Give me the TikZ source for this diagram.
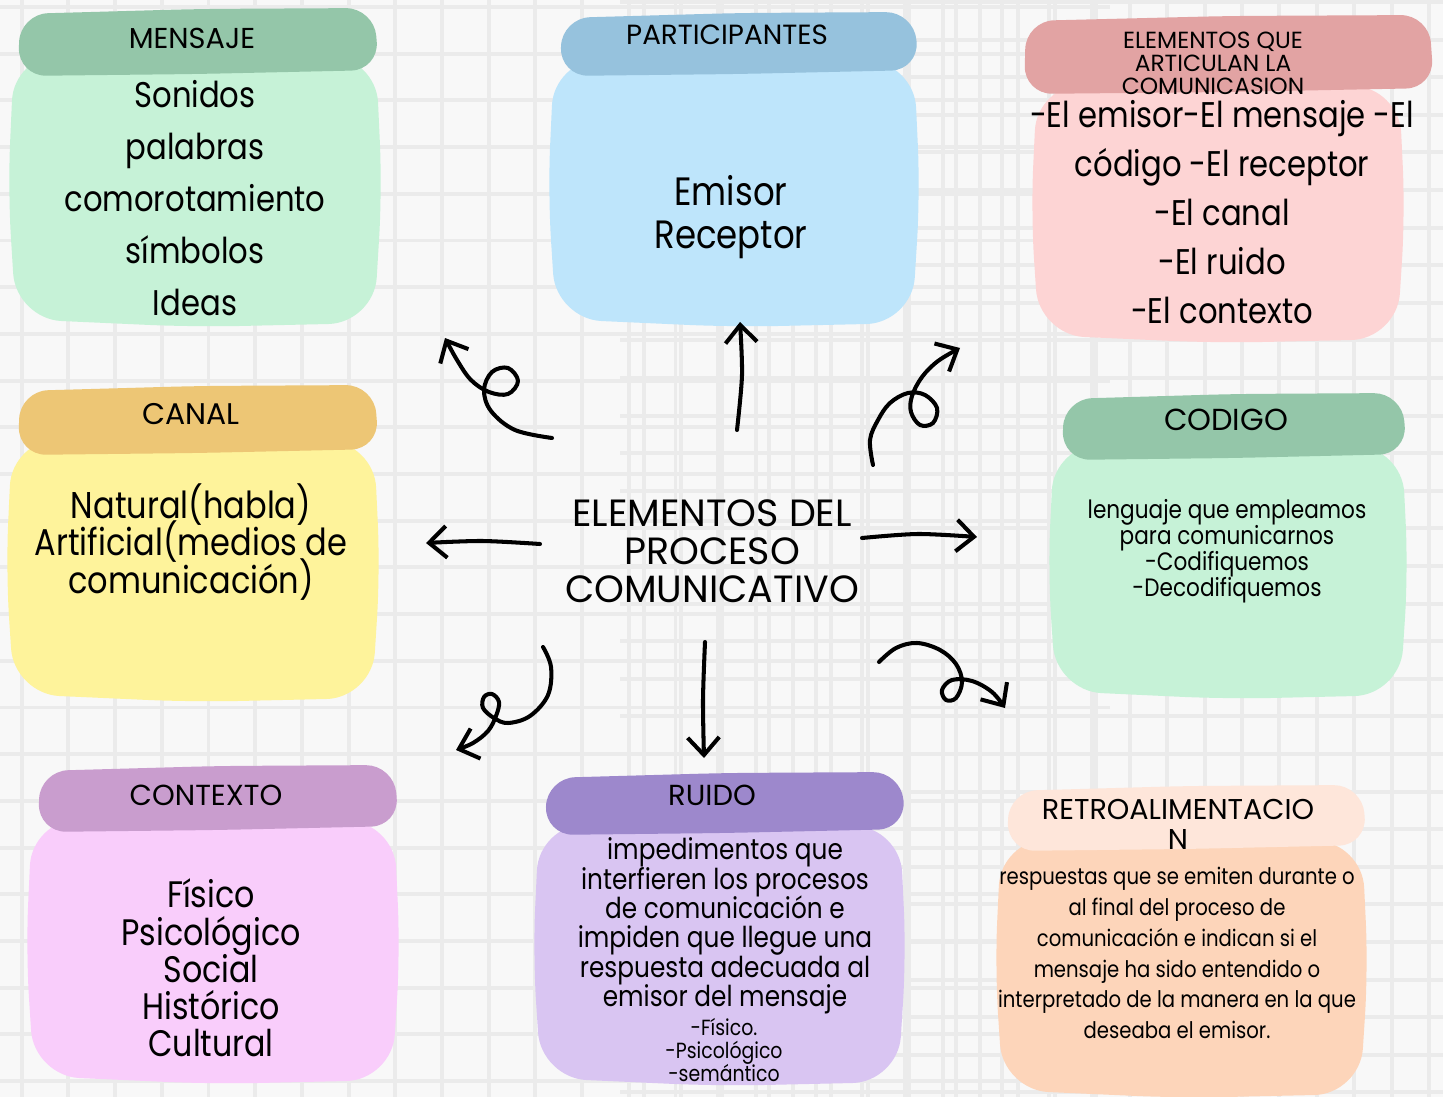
\documentclass[tikz,border=0pt]{standalone}
\usepackage{fontspec}
\setmainfont{Poppins}[FakeStretch=0.86]
\newfontfamily\mayus{Poppins}
\usetikzlibrary{arrows.meta}
\setlength{\lineskiplimit}{-100pt}

\definecolor{fondo}{HTML}{F8F8F8}
\definecolor{rejilla}{HTML}{EBEBEB}
\definecolor{verdeA}{HTML}{94C6A9}
\definecolor{verdeB}{HTML}{C6F2D7}
\definecolor{azulA}{HTML}{96C2DD}
\definecolor{azulB}{HTML}{BEE5FB}
\definecolor{rojoA}{HTML}{E2A3A3}
\definecolor{rojoB}{HTML}{FDD4D4}
\definecolor{amarA}{HTML}{EDC675}
\definecolor{amarB}{HTML}{FEF39B}
\definecolor{rosaA}{HTML}{C99DCE}
\definecolor{rosaB}{HTML}{F9CDFB}
\definecolor{moraA}{HTML}{9D88CC}
\definecolor{moraB}{HTML}{D9C5F2}
\definecolor{nara}{HTML}{FEE6DA}
\definecolor{naraB}{HTML}{FDD5BA}

% cuerpo de la caja: x1 y1 x2 y2 color
\newcommand{\cuerpo}[5]{%
  \fill[#5,rounded corners=26pt] (#1+4,#2) -- ({(#1+#3)/2},#2-3) -- (#3-4,#2+2)
    -- (#3+2,{(#2+#4)/2}) -- (#3-6,#4-2) -- ({(#1+#3)/2},#4+2) -- (#1+6,#4-6)
    -- (#1-2,{(#2+#4)/2}) -- cycle;}
% cinta del titulo: x1 y1 x2 y2 color
\newcommand{\cinta}[5]{%
  \fill[#5,rounded corners=16pt] (#1+2,#2+6) -- ({(#1+#3)/2},#2+1) -- (#3-4,#2)
    -- (#3+1,#4-6) -- ({(#1+#3)/2},#4-2) -- (#1,#4) -- cycle;}

\begin{document}
\begin{tikzpicture}[x=0.02cm,y=-0.02cm,
    titulo/.style={align=center,inner sep=0pt,font=\mayus\fontsize{16.4}{18}\selectfont},
    texto/.style={align=center,inner sep=0pt},
    flecha/.style={line width=2.3pt,line cap=round,line join=round,
      -{Straight Barb[length=10pt,width=18pt]}}]
  \useasboundingbox (0,0) rectangle (1443,1097);
  \fill[fondo] (0,0) rectangle (1443,1097);
  \foreach \i in {0,...,23}{
    \draw[rejilla,line width=2.2pt] ({21.7+46.7*\i},0) -- ({21.7+46.7*\i},1097);
    \draw[rejilla,line width=2.2pt] (0,{7+46.7*\i}) -- (1110,{7+46.7*\i});
  }
  \foreach \i in {0,...,21}
    \draw[rejilla,line width=2.2pt] ({1429-37.4*\i},0) -- ({1429-37.4*\i},1097);
  \foreach \i in {0,...,29}
    \draw[rejilla,line width=2.2pt] (620,{2+37.6*\i}) -- (1443,{2+37.6*\i});

  \cuerpo{10}{55}{380}{325}{verdeB}
  \cinta{18}{8}{378}{76}{verdeA}
  \cuerpo{550}{60}{918}{325}{azulB}
  \cinta{560}{12}{918}{76}{azulA}
  \cuerpo{1033}{85}{1403}{341}{rojoB}
  \cinta{1024}{15}{1433}{94}{rojoA}
  \cuerpo{8}{440}{378}{700}{amarB}
  \cinta{18}{385}{378}{455}{amarA}
  \cuerpo{1050}{445}{1406}{697}{verdeB}
  \cinta{1062}{393}{1406}{460}{verdeA}
  \cuerpo{28}{820}{398}{1082}{rosaB}
  \cinta{38}{765}{398}{832}{rosaA}
  \cuerpo{535}{825}{904}{1084}{moraB}
  \cinta{545}{772}{905}{835}{moraA}
  \cuerpo{997}{840}{1366}{1096}{naraB}
  \cinta{1007}{785}{1366}{851}{nara}

  \node[titulo] (mensaje) at (192,38) {MENSAJE};
  \node[texto,font=\fontsize{20.3}{29.5}\selectfont] (sonidos) at (195,198)
    {Sonidos\\palabras\\comorotamiento\\símbolos\\Ideas};
  \node[titulo,font=\mayus\fontsize{15.8}{18}\selectfont] (partic) at (727,35) {PARTICIPANTES};
  \node[texto,font=\fontsize{22.5}{24.4}\selectfont] (emisor) at (731,217) {Emisor\\Receptor};
  \node[texto,font=\mayus\fontsize{13.3}{13}\selectfont] (articulan) at (1213,63)
    {ELEMENTOS QUE\\ARTICULAN LA\\COMUNICASION};
  \node[texto,font=\fontsize{20.3}{28}\selectfont] (lista) at (1222,212)
    {-El emisor-El mensaje -El\\código -El receptor\\-El canal\\-El ruido\\-El contexto};
  \node[titulo,font=\mayus\fontsize{17}{18}\selectfont] (canal) at (191,414) {CANAL};
  \node[texto,font=\fontsize{21.2}{21.5}\selectfont] (natural) at (191,542)
    {Natural(habla)\\Artificial(medios de\\comunicación)};
  \node[titulo,font=\mayus\fontsize{17.3}{19}\selectfont] (codigo) at (1226,420) {CODIGO};
  \node[texto,font=\fontsize{14.3}{14.7}\selectfont] (lenguaje) at (1227,551)
    {lenguaje que empleamos\\para comunicarnos\\-Codifiquemos\\-Decodifiquemos};
  \node[titulo,font=\mayus\fontsize{16.5}{18}\selectfont] (contexto) at (206,795) {CONTEXTO};
  \node[texto,font=\fontsize{21}{21.2}\selectfont] (fisico) at (211,968)
    {Físico\\Psicológico\\Social\\Histórico\\Cultural};
  \node[titulo,font=\mayus\fontsize{16.5}{18}\selectfont] (ruido) at (712,795) {RUIDO};
  \node[texto,font=\fontsize{16.4}{16.7}\selectfont] (impedimentos) at (725,926)
    {impedimentos que\\interfieren los procesos\\de comunicación e\\impiden que llegue una\\respuesta adecuada al\\emisor del mensaje};
  \node[texto,font=\fontsize{12.5}{13.3}\selectfont] (tipos) at (724,1050)
    {-Físico.\\-Psicológico\\-semántico};
  \node[texto,font=\mayus\fontsize{16.3}{17}\selectfont] (retro) at (1178,824)
    {RETROALIMENTACIO\\N};
  \node[texto,font=\fontsize{13}{17.6}\selectfont] (respuestas) at (1177,953)
    {respuestas que se emiten durante o\\al final del proceso de\\comunicación e indican si el\\mensaje ha sido entendido o\\interpretado de la manera en la que\\deseaba el emisor.};
  \node[texto,font=\mayus\fontsize{21.6}{21.5}\selectfont] (centro) at (712,551)
    {ELEMENTOS DEL\\PROCESO\\COMUNICATIVO};

  \coordinate (c1) at (552,438); \coordinate (m1) at (445,338);
  \coordinate (c2) at (737,430); \coordinate (p2) at (740,322);
  \coordinate (c3) at (873,465); \coordinate (e3) at (960,348);
  \coordinate (c4) at (540,544); \coordinate (k4) at (426,543);
  \coordinate (c5) at (862,538); \coordinate (d5) at (977,537);
  \coordinate (c6) at (543,647); \coordinate (x6) at (456,750);
  \coordinate (c7) at (705,642); \coordinate (r7) at (704,758);
  \coordinate (c8) at (879,662); \coordinate (f8) at (1005,708);

  \draw[flecha] plot[smooth,tension=0.6] coordinates {(c1) (515,430) (491,411) (484,390)
    (492,372) (508,368) (518,381) (508,394) (489,392) (471,380) (457,360) (m1)};
  \draw[flecha] plot[smooth] coordinates {(c2) (742,375) (p2)};
  \draw[flecha] plot[smooth,tension=0.6] coordinates {(c3) (870,440) (878,420) (890,403)
    (908,393) (925,395) (937,408) (933,423) (920,425) (911,412) (912,396) (922,377)
    (938,361) (e3)};
  \draw[flecha] plot[smooth] coordinates {(c4) (482,541) (k4)};
  \draw[flecha] plot[smooth] coordinates {(c5) (918,534) (d5)};
  \draw[flecha] plot[smooth,tension=0.6] coordinates {(c6) (551,667) (548,695) (530,716)
    (508,723) (494,718) (483,708) (484,697) (492,694) (499,702) (496,716) (488,731)
    (473,743) (x6)};
  \draw[flecha] plot[smooth] coordinates {(c7) (703,700) (r7)};
  \draw[flecha] plot[smooth,tension=0.6] coordinates {(c8) (896,648) (917,643) (940,650)
    (956,664) (962,682) (956,698) (946,700) (942,690) (952,680) (972,681) (992,692) (f8)};
\end{tikzpicture}
\end{document}
